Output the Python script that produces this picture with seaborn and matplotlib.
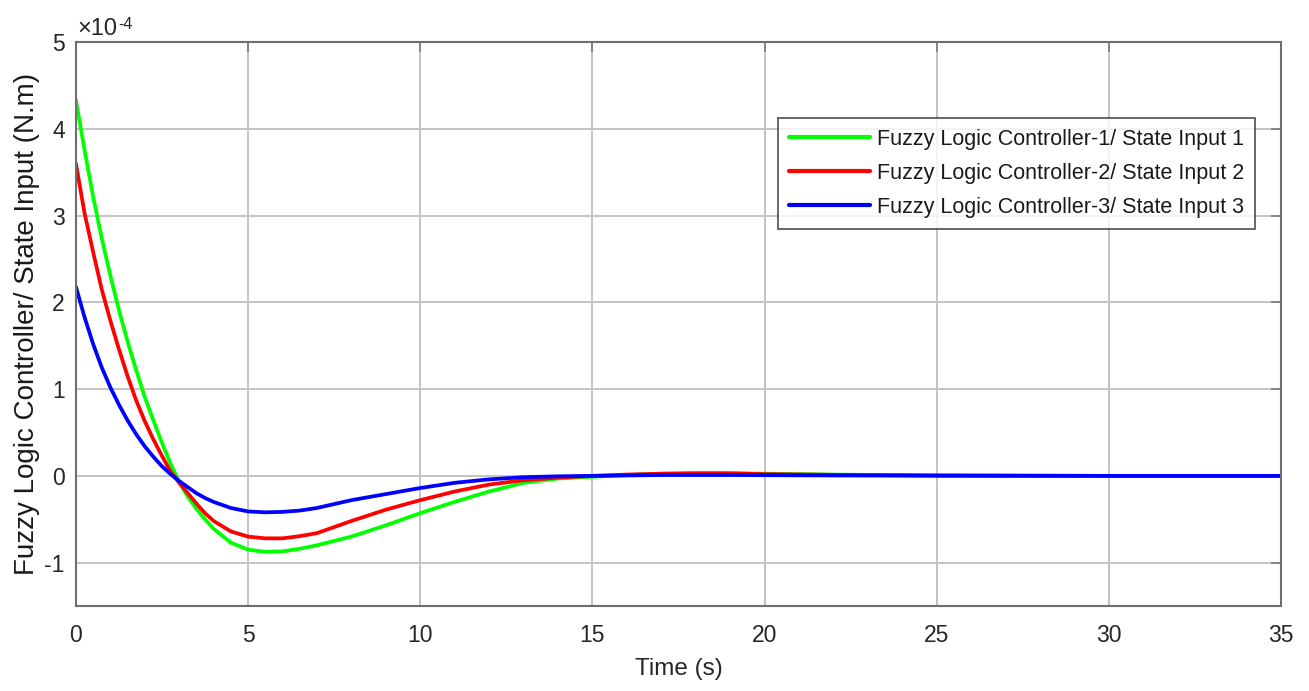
import matplotlib
matplotlib.use("Agg")
import matplotlib.pyplot as plt
from matplotlib import font_manager
import seaborn as sns
import pandas as pd

# time samples (s) and controller outputs in units of 1e-4 N.m
time = [0, 0.25, 0.5, 0.75, 1, 1.25, 1.5, 1.75, 2, 2.25, 2.5, 2.75, 3, 3.25,
        3.5, 3.75, 4, 4.5, 5, 5.5, 6, 6.5, 7, 8, 9, 10, 11, 12, 13, 14, 15,
        16, 17, 18, 19, 20, 22, 25, 30, 35]
flc1 = [4.33, 3.76, 3.22, 2.74, 2.31, 1.91, 1.55, 1.22, 0.91, 0.64, 0.38, 0.14,
        -0.07, -0.24, -0.38, -0.50, -0.61, -0.77, -0.85, -0.875, -0.87, -0.84,
        -0.80, -0.70, -0.57, -0.43, -0.30, -0.18, -0.08, -0.03, -0.01, 0.01,
        0.025, 0.03, 0.03, 0.025, 0.015, 0.005, 0.0, 0.0]
flc2 = [3.60, 3.03, 2.58, 2.15, 1.79, 1.46, 1.15, 0.87, 0.63, 0.42, 0.23, 0.05,
        -0.08, -0.20, -0.32, -0.43, -0.52, -0.64, -0.70, -0.72, -0.72, -0.695,
        -0.66, -0.52, -0.39, -0.28, -0.18, -0.10, -0.05, -0.02, 0.0, 0.015,
        0.025, 0.03, 0.03, 0.02, 0.012, 0.005, 0.0, 0.0]
flc3 = [2.18, 1.83, 1.52, 1.25, 1.02, 0.82, 0.64, 0.48, 0.34, 0.22, 0.11, 0.02,
        -0.06, -0.13, -0.20, -0.255, -0.30, -0.37, -0.41, -0.42, -0.415, -0.40,
        -0.37, -0.28, -0.21, -0.14, -0.08, -0.04, -0.015, -0.005, 0.0, 0.005,
        0.01, 0.01, 0.01, 0.008, 0.005, 0.002, 0.0, 0.0]
labels = ["Fuzzy Logic Controller-1/ State Input 1",
          "Fuzzy Logic Controller-2/ State Input 2",
          "Fuzzy Logic Controller-3/ State Input 3"]
colors = ["#00ff00", "#ff0000", "#0000ff"]

rows = []
for lab, vals in zip(labels, [flc1, flc2, flc3]):
    for t, v in zip(time, vals):
        rows.append({"t": t, "u": v, "series": lab})
df = pd.DataFrame(rows)

sns.set_style("white")
plt.rcParams["font.family"] = ["Liberation Sans", "DejaVu Sans"]
plt.rcParams["axes.unicode_minus"] = False

# the x label in the original looks condensed
installed = {f.name for f in font_manager.fontManager.ttflist}
if "Liberation Sans Narrow" in installed:
    xlab_font, xlab_size = "Liberation Sans Narrow", 21
else:
    xlab_font, xlab_size = "Liberation Sans", 17.5

fig = plt.figure(figsize=(13.09, 6.91), dpi=100)
ax = fig.add_axes([0.058, 0.123, 0.9206, 0.816])
sns.lineplot(data=df, x="t", y="u", hue="series", palette=colors,
             linewidth=2.7, ax=ax, legend=True)

ax.set_xlim(0, 35)
ax.set_ylim(-1.5, 5)
ax.set_xticks(range(0, 36, 5))
ax.set_yticks(range(-1, 6))
ax.grid(True, color="#c4c4c4", linewidth=1.4)
ax.tick_params(direction="in", length=7, labelsize=16.5, colors="#7a7a7a",
               labelcolor="#262626", width=1.2, top=True, right=True)
ax.tick_params(axis="x", pad=13)
ax.tick_params(axis="y", pad=8)
for sp in ax.spines.values():
    sp.set_color("#6e6e6e")
    sp.set_linewidth(1.5)

ax.set_xlabel("Time (s)", fontsize=xlab_size, family=xlab_font,
              color="#262626")
ax.xaxis.set_label_coords(0.5, -0.093)
ax.set_ylabel("Fuzzy Logic Controller/ State Input (N.m)", fontsize=20,
              color="#1a1a1a")
ax.yaxis.set_label_coords(-0.030, 0.5)

mult = ax.text(0.001, 1.004, "\u00d710", transform=ax.transAxes,
               fontsize=17, color="#262626", va="bottom", ha="left")
ax.annotate("-4", xy=(1, 1), xycoords=mult, xytext=(1, 1),
            textcoords="offset points", fontsize=11.5, color="#262626",
            va="top", ha="left")

leg = ax.legend(loc="upper right", bbox_to_anchor=(0.9784, 0.8652),
                borderaxespad=0, fontsize=15.5, frameon=True, fancybox=False,
                handlelength=3.8, borderpad=0.5, labelspacing=0.6,
                handletextpad=0.3)
leg.get_frame().set_edgecolor("#333333")
leg.get_frame().set_linewidth(1.3)
for line in leg.get_lines():
    line.set_linewidth(3.0)
for txt in leg.get_texts():
    txt.set_color("#1a1a1a")

fig.savefig("out.png", dpi=100)
plt.close(fig)
